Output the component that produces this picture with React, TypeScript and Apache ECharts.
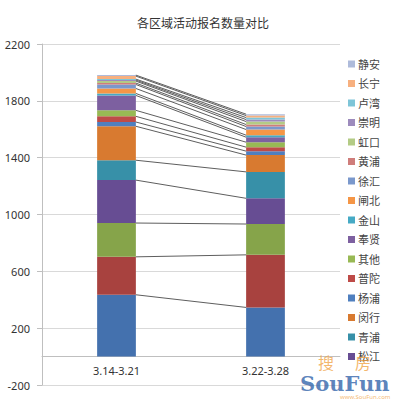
import React, { useEffect, useRef } from "react";
import * as echarts from "echarts";

const categories = ["3.14-3.21", "3.22-3.28"];

// stack order, bottom to top
const seriesNames = [
  "浦东", "嘉定", "宝山", "松江", "青浦", "闵行", "杨浦", "普陀", "其他", "奉贤",
  "金山", "闸北", "徐汇", "黄浦", "虹口", "崇明", "卢湾", "长宁", "静安",
];
const week1 = [435, 267, 238, 302, 140, 239, 30, 40, 42, 105, 14, 35, 28, 10, 14, 7, 7, 21, 7];
const week2 = [346, 370, 217, 181, 186, 118, 28, 28, 35, 35, 14, 40, 21, 14, 21, 14, 14, 14, 10];
const colors = [
  "#4471AE", "#A8423F", "#86A44A", "#674D93", "#3790A8", "#D87A30",
  "#4F7FBF", "#BE4B48", "#98B954", "#7D60A0", "#46AAC5", "#F59646",
  "#7A98CC", "#CF7D7B", "#B3CB85", "#9D8BBD", "#7EC5D8", "#F7B07F", "#AEBBDB",
];
const legendNames = [
  "静安", "长宁", "卢湾", "崇明", "虹口", "黄浦", "徐汇", "闸北", "金山",
  "奉贤", "其他", "普陀", "杨浦", "闵行", "青浦", "松江",
];
const yTicks = { min: -200, max: 2200, interval: 400 };

const BAR_RATIO = 0.26;
const FONT = "'Noto Sans', 'Noto Sans CJK SC', sans-serif";

export default function App() {
  const ref = useRef<HTMLDivElement>(null);
  useEffect(() => {
    document.body.style.margin = "0";
    if (!ref.current) return;
    const chart = echarts.init(ref.current, null, { renderer: "svg" });

    const cum1: number[] = [];
    const cum2: number[] = [];
    let a = 0, b = 0;
    for (let i = 0; i < week1.length; i++) {
      a += week1[i];
      b += week2[i];
      cum1.push(a);
      cum2.push(b);
    }
    const connectorData = cum1.map((v, i) => [0, v, cum2[i]]);

    const barSeries = seriesNames.map((name, i) => ({
      name,
      type: "bar",
      stack: "total",
      barWidth: BAR_RATIO * 100 + "%",
      data: [week1[i], week2[i]],
      itemStyle: { color: colors[i] },
      z: 3,
      silent: true,
    }));

    chart.setOption({
      animation: false,
      title: {
        text: "各区域活动报名数量对比",
        left: 198,
        textAlign: "center",
        top: 12,
        textStyle: { fontSize: 12, fontWeight: "normal", color: "#333", fontFamily: FONT },
      },
      legend: {
        data: legendNames,
        orient: "vertical",
        left: 343,
        top: 53,
        itemWidth: 7,
        itemHeight: 7,
        itemGap: 7.5,
        icon: "rect",
        textStyle: { fontSize: 11, color: "#444", lineHeight: 12, fontFamily: FONT, padding: [0, 0, 0, -2] },
        selectedMode: false,
      },
      grid: { left: 42, right: 57, top: 44, bottom: 15, containLabel: false },
      xAxis: {
        type: "category",
        data: categories,
        axisLine: { onZero: true, lineStyle: { color: "#BFBFBF" } },
        axisTick: { show: false },
        axisLabel: { color: "#333", fontSize: 11, margin: -20, fontFamily: FONT },
      },
      yAxis: {
        type: "value",
        min: yTicks.min,
        max: yTicks.max,
        interval: yTicks.interval,
        axisLine: { show: true, lineStyle: { color: "#BFBFBF" } },
        axisTick: { show: true, length: 5, lineStyle: { color: "#BFBFBF" } },
        axisLabel: {
          color: "#333",
          fontSize: 11,
          margin: 12,
          fontFamily: FONT,
          formatter: (v: number) => String(v),
        },
        splitLine: { lineStyle: { color: "#D9D9D9" } },
      },
      series: [
        ...barSeries,
        {
          type: "custom",
          name: "connectors",
          silent: true,
          z: 4,
          encode: { x: 0, y: [1, 2] },
          data: connectorData,
          renderItem: (params: any, api: any) => {
            const p1 = api.coord([0, api.value(1)]);
            const p2 = api.coord([1, api.value(2)]);
            const bw = api.size([1, 0])[0] * BAR_RATIO;
            return {
              type: "line",
              shape: { x1: p1[0] + bw / 2, y1: p1[1], x2: p2[0] - bw / 2, y2: p2[1] },
              style: { stroke: "#5E5E5E", lineWidth: 1 },
            };
          },
        },
      ],
      graphic: [
        {
          type: "text",
          left: 318,
          top: 355,
          z: 100,
          style: { text: "搜", fontSize: 16, fill: "rgba(240,160,60,0.75)", fontFamily: FONT },
        },
        {
          type: "text",
          left: 355,
          top: 355,
          z: 100,
          style: { text: "房", fontSize: 16, fill: "rgba(240,160,60,0.75)", fontFamily: FONT },
        },
        {
          type: "text",
          left: 300,
          top: 373,
          z: 100,
          style: { text: "SouFun", fontSize: 21, fontWeight: "bold", fill: "rgba(50,100,170,0.8)", fontFamily: "'DejaVu Serif', 'Liberation Serif', serif" },
        },
        {
          type: "text",
          left: 340,
          top: 394,
          z: 100,
          style: { text: "www.SouFun.com", fontSize: 6, fill: "rgba(240,160,60,0.75)", fontFamily: FONT },
        },
      ],
    });
    return () => chart.dispose();
  }, []);
  return <div ref={ref} style={{ width: 397, height: 400 }} />;
}
